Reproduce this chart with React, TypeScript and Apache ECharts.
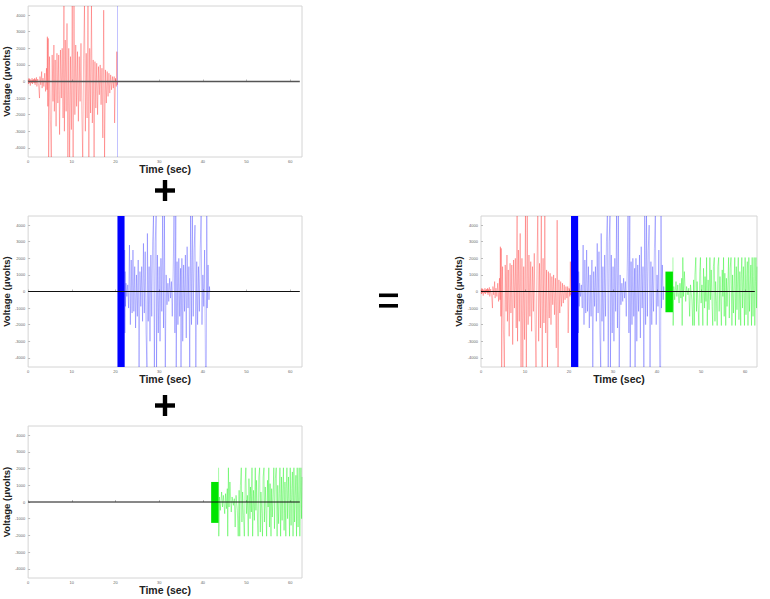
import React, { useEffect, useRef } from "react";
import * as echarts from "echarts";

const xTicks = [0, 10, 20, 30, 40, 50, 60];
const yTicks = [-4000, -3000, -2000, -1000, 0, 1000, 2000, 3000, 4000];
const timeRange = [0, 62.7];
const voltRange = [-4550, 4550];
const zeroLine: [number, number][] = [[0, 0], [62.2, 0]];
const blueBlock = [20.45, 22.05, -4550, 4550];
const greenBlock = [41.9, 43.6, -1250, 1200];

const redSignal: [number, number][] = [
  [0.0, 100], [0.1, -150], [0.2, 200], [0.3, -100], [0.4, 150], [0.5, -250], [0.6, 100], [0.7, 50],
  [0.8, -100], [0.9, 200], [1.0, -150], [1.1, 100], [1.2, -50], [1.3, 150], [1.4, -100], [1.5, 200],
  [1.6, -200], [1.7, 120], [1.8, -80], [1.9, 250], [2.0, -300], [2.2, 150], [2.4, -250], [2.6, -1000],
  [2.7, 300], [2.9, -200], [3.1, 600], [3.2, -400], [3.4, 200], [3.6, -300], [3.8, 500], [4.0, -600],
  [4.2, 800], [4.3, -500], [4.4, 2700], [4.5, -1500], [4.6, 2600], [4.7, -4550], [4.9, 1500], [5.1, -2300],
  [5.3, -4550], [5.5, 1600], [5.7, -1200], [5.9, 2200], [6.0, -1800], [6.2, 1300], [6.4, -2700], [6.6, 1700],
  [6.8, -1300], [7.0, 1600], [7.2, -3200], [7.4, 1900], [7.6, -1000], [7.8, 2000], [8.0, -2200], [8.2, 4550],
  [8.3, -3000], [8.5, 2500], [8.7, -1800], [8.9, 3500], [9.1, -4550], [9.3, 2000], [9.5, -4550], [9.7, 1500],
  [9.9, -2900], [10.1, 4550], [10.3, -4550], [10.5, 4550], [10.7, -2000], [10.9, 2200], [11.1, -1500], [11.3, 1800],
  [11.5, -2400], [11.7, 1500], [11.9, -1200], [12.1, 2300], [12.3, -2000], [12.5, -4550], [12.7, 1400], [12.9, 4550],
  [13.1, -3000], [13.3, 1700], [13.5, -2200], [13.7, 4550], [13.9, -4550], [14.1, 2000], [14.3, -1900], [14.5, 4550],
  [14.7, -2500], [14.9, 1300], [15.1, -4550], [15.3, 1200], [15.5, -1600], [15.7, 1100], [15.9, -2000], [16.1, 900],
  [16.3, -800], [16.5, 1000], [16.7, -1400], [16.9, 800], [17.1, -3400], [17.3, 4300], [17.5, -4550], [17.7, 700],
  [17.9, -1300], [18.1, 600], [18.3, -900], [18.5, 500], [18.7, -700], [18.9, 400], [19.1, -500], [19.3, 300],
  [19.5, -400], [19.7, 300], [19.8, -2500], [20.0, 200], [20.2, -300], [20.3, 1800], [20.4, -200], [20.5, 0],
];

const blueSignal: [number, number][] = [
  [22.0, 4550], [22.05, -4550], [22.1, 2500], [22.15, -2500], [22.2, 1200], [22.3, -900], [22.4, 500], [22.6, -300],
  [22.8, 400], [23.0, -1000], [23.2, 2800], [23.4, -2000], [23.6, 1900], [23.8, -1300], [24.0, 2500], [24.2, -1200],
  [24.4, 1500], [24.6, -2200], [24.8, 1000], [25.0, -1500], [25.2, 1900], [25.4, -4550], [25.6, 1200], [25.8, -900],
  [26.0, 1500], [26.2, -1800], [26.4, 2900], [26.6, -1300], [26.8, 2400], [27.0, -2500], [27.2, -4550], [27.3, 3500],
  [27.5, -1800], [27.7, 1500], [27.9, -3000], [28.1, 2200], [28.3, -1500], [28.5, 3000], [28.7, 4550], [28.9, -4550],
  [29.1, 3000], [29.3, 4550], [29.4, -4550], [29.6, 2200], [29.8, -2500], [30.0, 1500], [30.2, -3000], [30.4, 2000],
  [30.6, -1200], [30.8, 4550], [31.0, -2200], [31.2, 4550], [31.4, -4550], [31.6, 1000], [31.8, -800], [32.0, 500],
  [32.2, -600], [32.4, 800], [32.6, -400], [32.8, 600], [33.0, -1500], [33.2, 1200], [33.4, 4550], [33.6, -2500],
  [33.8, 4550], [33.9, -4550], [34.1, 1800], [34.3, -2000], [34.5, 2000], [34.7, -1500], [34.9, 1400], [35.0, -4550],
  [35.2, 2000], [35.4, -3000], [35.6, 1600], [35.8, -1200], [36.0, 2200], [36.2, -2800], [36.4, 2700], [36.6, -1000],
  [36.8, 1500], [37.0, -4550], [37.2, 4550], [37.4, -2000], [37.6, 4550], [37.8, -1500], [38.0, 2500], [38.2, 4000],
  [38.4, -4550], [38.6, 1800], [38.8, -2000], [39.0, 1500], [39.2, -1200], [39.4, 2600], [39.6, 4550], [39.8, -2000],
  [40.0, 1000], [40.2, -900], [40.4, 2500], [40.6, -4550], [40.8, -4550], [40.9, 4550], [41.0, -1000], [41.2, 1600],
  [41.4, -500], [41.5, 300], [41.6, 0],
];

const greenSignal: [number, number][] = [
  [43.6, 2050], [43.65, -2050], [43.8, 300], [44.0, -500], [44.3, 600], [44.5, -300], [44.7, 400], [45.0, -700],
  [45.2, 500], [45.4, -400], [45.6, 800], [45.7, -2050], [45.85, 2050], [46.0, -300], [46.2, 1200], [46.5, -600],
  [46.7, 300], [47.0, -200], [47.2, 200], [47.4, -1500], [47.6, 400], [47.9, -500], [48.1, -2050], [48.3, 700],
  [48.45, -2050], [48.6, 1000], [48.8, 2050], [48.95, -1200], [49.1, 600], [49.3, -800], [49.5, -2050], [49.7, 1200],
  [49.85, 2050], [50.0, -700], [50.2, 400], [50.4, -2050], [50.55, 1400], [50.8, -1000], [50.9, 900], [51.1, -600],
  [51.25, 2050], [51.4, -2050], [51.6, 700], [51.8, -1100], [52.0, 2050], [52.15, -500], [52.3, 1300], [52.5, -900],
  [52.65, -2050], [52.8, 1500], [53.0, 2050], [53.15, -1800], [53.3, 600], [53.5, -700], [53.65, -2050], [53.8, 1500],
  [54.0, 2050], [54.1, -1200], [54.3, 900], [54.45, -400], [54.6, -2050], [54.8, 1300], [54.95, -300], [55.1, 2050],
  [55.25, -1500], [55.4, 1100], [55.6, -2050], [55.75, 800], [55.9, -900], [56.1, 600], [56.25, 2050], [56.4, -1600],
  [56.6, 1400], [56.8, 2050], [57.0, -2050], [57.15, 1000], [57.35, -1300], [57.5, 500], [57.65, 2050], [57.8, -2050],
  [58.0, 1500], [58.15, -1100], [58.3, 700], [58.45, 2050], [58.6, -1700], [58.8, 1200], [59.0, -2050], [59.1, 800],
  [59.25, 2050], [59.4, -1000], [59.6, 1500], [59.75, -600], [59.85, -2050], [60.0, 2050], [60.2, -1400], [60.35, 800],
  [60.5, 1800], [60.65, -2050], [60.85, 2050], [61.0, -1200], [61.15, 400], [61.3, 1600], [61.45, -2050], [61.6, 2050],
  [61.8, -1500], [61.95, 900], [62.05, 2050], [62.2, -2050], [62.35, 600], [62.45, 2050], [62.6, -1000], [62.7, 1500],
];

const panels = [
  { left: 26, top: 6, width: 276, height: 151 },
  { left: 26, top: 216, width: 276, height: 151 },
  { left: 26, top: 426, width: 276, height: 152 },
  { left: 481, top: 216, width: 276, height: 151 },
];

const RED = "rgba(255,0,0,0.55)";
const BLUE = "rgba(0,0,255,0.5)";
const GREEN = "rgba(0,240,0,0.7)";

function lineSeries(idx: number, data: [number, number][], color: string, extra: any = {}) {
  return {
    type: "line",
    xAxisIndex: idx,
    yAxisIndex: idx,
    data,
    showSymbol: false,
    symbol: "none",
    silent: true,
    clip: true,
    lineStyle: { color, width: 0.5 },
    z: 2,
    ...extra,
  };
}

function blockArea(block: number[], color: string) {
  return {
    silent: true,
    itemStyle: { color, opacity: 1 },
    data: [[{ xAxis: block[0], yAxis: block[2] }, { xAxis: block[1], yAxis: block[3] }]],
  };
}

function zeroSeries(idx: number, color: string, width: number) {
  return {
    type: "line",
    xAxisIndex: idx,
    yAxisIndex: idx,
    data: zeroLine,
    showSymbol: false,
    symbol: "none",
    silent: true,
    lineStyle: { color, width },
    z: 5,
  };
}

export default function App() {
  const ref = useRef<HTMLDivElement>(null);
  useEffect(() => {
    if (!ref.current) return;
    const chart = echarts.init(ref.current, null, { renderer: "svg" });
    const font = "'Liberation Sans', Arial, sans-serif";
    const grids = panels.map((p) => ({
      ...p,
      show: true,
      borderColor: "#d4d4d4",
      borderWidth: 1,
      backgroundColor: "#fff",
      containLabel: false,
    }));
    const xAxes = panels.map((_, i) => ({
      type: "value",
      gridIndex: i,
      min: timeRange[0],
      max: timeRange[1],
      name: "Time (sec)",
      nameLocation: "middle",
      nameGap: 6,
      nameTextStyle: { fontFamily: font, fontWeight: "bold", fontSize: 10.5, color: "#222", verticalAlign: "top" },
      axisLine: { show: false },
      splitLine: { show: false },
      axisTick: { show: true, inside: true, length: 2, lineStyle: { color: "#bbb" }, customValues: xTicks },
      axisLabel: { fontSize: 4, color: "#666", margin: 2, fontFamily: font, customValues: xTicks, formatter: (v: number) => String(v) },
    }));
    const yAxes = panels.map((_, i) => ({
      type: "value",
      gridIndex: i,
      min: voltRange[0],
      max: voltRange[1],
      name: "Voltage (\u03bcvolts)",
      nameLocation: "middle",
      nameGap: 5,
      nameTextStyle: { fontFamily: font, fontWeight: "bold", fontSize: 9.5, color: "#222" },
      axisLine: { show: false },
      splitLine: { show: false },
      axisTick: { show: true, inside: true, length: 2, lineStyle: { color: "#bbb" }, customValues: yTicks },
      axisLabel: { fontSize: 4, color: "#666", margin: 3, fontFamily: font, customValues: yTicks, formatter: (v: number) => String(v) },
    }));

    const series: any[] = [
      lineSeries(0, redSignal, RED, {
        markLine: {
          silent: true,
          symbol: "none",
          label: { show: false },
          lineStyle: { color: "rgba(0,0,255,0.3)", width: 0.8, type: "solid" },
          data: [{ xAxis: blueBlock[0] }],
        },
      }),
      zeroSeries(0, "#555", 1.3),
      lineSeries(1, blueSignal, BLUE, { markArea: blockArea(blueBlock, "#0000ff") }),
      zeroSeries(1, "#111", 1),
      lineSeries(2, greenSignal, GREEN, { markArea: blockArea(greenBlock, "#00e400") }),
      zeroSeries(2, "#111", 1),
      lineSeries(3, redSignal, RED),
      lineSeries(3, blueSignal, BLUE, { markArea: blockArea(blueBlock, "#0000ff") }),
      lineSeries(3, greenSignal, GREEN, { markArea: blockArea(greenBlock, "#00e400") }),
      zeroSeries(3, "#111", 1),
    ];

    const plus = (cx: number, cy: number) => [
      { type: "rect", shape: { x: cx - 10, y: cy - 2.2, width: 20, height: 4.4 }, style: { fill: "#000" } },
      { type: "rect", shape: { x: cx - 2.2, y: cy - 10.5, width: 4.4, height: 21 }, style: { fill: "#000" } },
    ];

    chart.setOption({
      animation: false,
      backgroundColor: "#fff",
      grid: grids,
      xAxis: xAxes,
      yAxis: yAxes,
      series,
      graphic: [
        ...plus(165, 190.5),
        ...plus(165, 405.5),
        { type: "rect", shape: { x: 379, y: 293.5, width: 19, height: 3.6 }, style: { fill: "#000" } },
        { type: "rect", shape: { x: 379, y: 304, width: 19, height: 3.6 }, style: { fill: "#000" } },
      ],
    });
    return () => chart.dispose();
  }, []);
  return <div ref={ref} style={{ position: "absolute", left: 0, top: 0, width: 770, height: 599 }} />;
}
